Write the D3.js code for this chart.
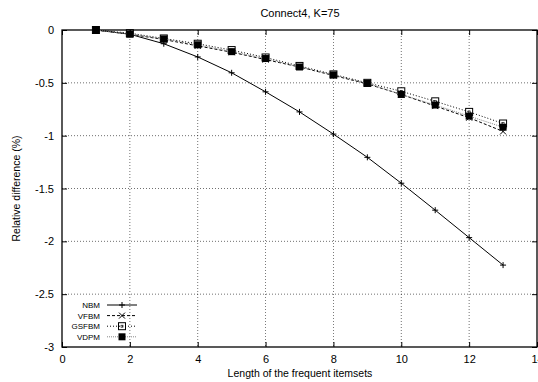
<!DOCTYPE html>
<meta charset="utf-8">
<html>
<head>
<script src="https://d3js.org/d3.v7.min.js"></script>
<style>
  body { margin: 0; background: #fff; }
  text { font-family: "Liberation Sans", Arial, sans-serif; }
  .grid line { stroke: #000; stroke-width: 0.7; stroke-dasharray: 1,2; opacity: 0.8; }
</style>
</head>
<body>
<script>
// data
var lengths = [1, 2, 3, 4, 5, 6, 7, 8, 9, 10, 11, 12, 13];
var nbm   = [0, -0.04, -0.13, -0.255, -0.405, -0.585, -0.775, -0.985, -1.205, -1.45, -1.705, -1.965, -2.225];
var vfbm  = [0, -0.04, -0.09, -0.15, -0.21, -0.28, -0.35, -0.43, -0.51, -0.61, -0.72, -0.83, -0.96];
var gsfbm = [0, -0.03, -0.08, -0.13, -0.19, -0.26, -0.34, -0.42, -0.50, -0.58, -0.675, -0.775, -0.885];
var vdpm  = [0, -0.04, -0.085, -0.14, -0.205, -0.27, -0.35, -0.425, -0.505, -0.61, -0.71, -0.815, -0.92];
var seriesNames = ["NBM", "VFBM", "GSFBM", "VDPM"];
var xTicks = [0, 2, 4, 6, 8, 10, 12, 14];
var yTicks = [0, -0.5, -1, -1.5, -2, -2.5, -3];

var width = 538, height = 382;
var pLeft = 62, pRight = 537, pTop = 30, pBottom = 347;

var x = d3.scaleLinear().domain([0, 14]).range([pLeft, pRight]);
var y = d3.scaleLinear().domain([-3, 0]).range([pBottom, pTop]);

var svg = d3.select("body").append("svg")
    .attr("width", width)
    .attr("height", height);

// grid
var grid = svg.append("g").attr("class", "grid");
grid.selectAll(".gx").data(xTicks.slice(1, -1)).enter().append("line")
    .attr("x1", function(d) { return x(d); }).attr("x2", function(d) { return x(d); })
    .attr("y1", pTop).attr("y2", pBottom);
grid.selectAll(".gy").data(yTicks.slice(1, -1)).enter().append("line")
    .attr("x1", pLeft).attr("x2", pRight)
    .attr("y1", function(d) { return y(d); }).attr("y2", function(d) { return y(d); });

// axes (ticks inward, mirrored)
var xAxis = d3.axisBottom(x).tickValues(xTicks).tickSize(-5).tickPadding(8).tickFormat(d3.format("d"));
var yAxis = d3.axisLeft(y).tickValues(yTicks).tickSize(-5).tickPadding(8).tickFormat(function(d) { return d; });

svg.append("g").attr("transform", "translate(0," + pBottom + ")").call(xAxis);
svg.append("g").attr("transform", "translate(" + pLeft + ",0)").call(yAxis);
svg.append("g").attr("transform", "translate(0," + pTop + ")")
    .call(d3.axisTop(x).tickValues(xTicks).tickSize(-5).tickFormat(""));
svg.append("g").attr("transform", "translate(" + pRight + ",0)")
    .call(d3.axisRight(y).tickValues(yTicks).tickSize(-5).tickFormat(""));

svg.selectAll(".domain").remove();
svg.selectAll(".tick line").attr("stroke", "#000");
svg.selectAll(".tick text").attr("font-size", 11).attr("fill", "#000")
    .attr("font-family", "Liberation Sans, Arial, sans-serif");

svg.append("rect")
    .attr("x", pLeft).attr("y", pTop)
    .attr("width", pRight - pLeft).attr("height", pBottom - pTop)
    .attr("fill", "none").attr("stroke", "#000").attr("stroke-width", 1.3);

// labels
svg.append("text").attr("x", 300).attr("y", 17).attr("text-anchor", "middle")
    .attr("font-size", 11).text("Connect4, K=75");
svg.append("text").attr("x", 300).attr("y", 377).attr("text-anchor", "middle")
    .attr("font-size", 10.5).text("Length of the frequent itemsets");
svg.append("text")
    .attr("transform", "translate(20," + (pTop + pBottom) / 2 + ")rotate(-90)")
    .attr("text-anchor", "middle").attr("font-size", 10.5).text("Relative difference (%)");

// series
var series = [
  { name: seriesNames[0], values: nbm,   dash: null,  color: "#000", marker: "plus" },
  { name: seriesNames[1], values: vfbm,  dash: "3,2", color: "#000", marker: "cross" },
  { name: seriesNames[2], values: gsfbm, dash: "1,2", color: "#000", marker: "open" },
  { name: seriesNames[3], values: vdpm,  dash: "1,1", color: "#888", marker: "filled" }
];

var line = d3.line()
    .x(function(d) { return x(d[0]); })
    .y(function(d) { return y(d[1]); });

function drawMarker(g, type, cx, cy) {
  if (type === "plus") {
    g.append("path").attr("d", "M" + (cx - 3) + "," + cy + "h6M" + cx + "," + (cy - 3) + "v6")
      .attr("stroke", "#000").attr("stroke-width", 1);
  } else if (type === "cross") {
    g.append("path").attr("d", "M" + (cx - 3) + "," + (cy - 3) + "l6,6M" + (cx - 3) + "," + (cy + 3) + "l6,-6")
      .attr("stroke", "#000").attr("stroke-width", 1);
  } else if (type === "open") {
    g.append("rect").attr("x", cx - 3.5).attr("y", cy - 3.5).attr("width", 7).attr("height", 7)
      .attr("fill", "none").attr("stroke", "#000").attr("stroke-width", 1);
    g.append("rect").attr("x", cx - 1).attr("y", cy - 1).attr("width", 2).attr("height", 2)
      .attr("fill", "none").attr("stroke", "#000").attr("stroke-width", 0.6);
  } else {
    g.append("rect").attr("x", cx - 3.5).attr("y", cy - 3.5).attr("width", 7).attr("height", 7)
      .attr("fill", "#000");
  }
}

series.forEach(function(s) {
  var pts = lengths.map(function(l, i) { return [l, s.values[i]]; });
  var g = svg.append("g");
  g.append("path").datum(pts).attr("d", line)
    .attr("fill", "none").attr("stroke", s.color).attr("stroke-width", 1)
    .attr("stroke-dasharray", s.dash);
  pts.forEach(function(p) { drawMarker(g, s.marker, x(p[0]), y(p[1])); });
});

// legend
var legend = svg.append("g");
series.forEach(function(s, i) {
  var ly = 305 + i * 10.6;
  legend.append("text").attr("x", 100).attr("y", ly + 3).attr("text-anchor", "end")
    .attr("font-size", 8).text(s.name);
  legend.append("line").attr("x1", 107).attr("x2", 137).attr("y1", ly).attr("y2", ly)
    .attr("stroke", s.color).attr("stroke-width", 1).attr("stroke-dasharray", s.dash);
  drawMarker(legend, s.marker, 122, ly);
});
</script>
</body>
</html>
